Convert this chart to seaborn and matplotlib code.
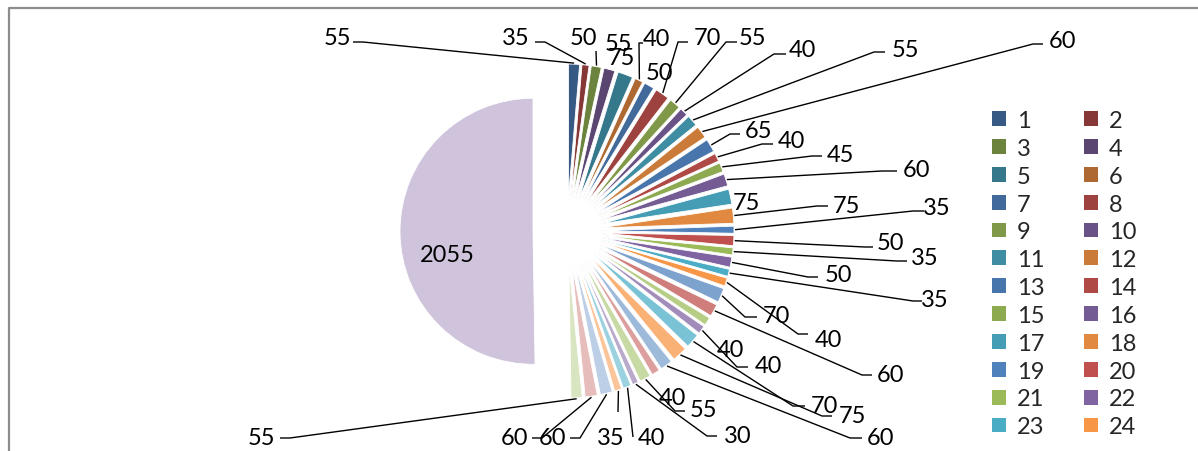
import math
import matplotlib
matplotlib.use("Agg")
import matplotlib.pyplot as plt
import seaborn as sns
from matplotlib.patches import Patch
from matplotlib.colors import to_rgb

# Slice values, clockwise from twelve o'clock
values = [55, 35, 50, 55, 75, 40, 50, 70, 55, 40, 55, 60, 65, 40, 45, 60, 75, 75,
          35, 50, 35, 50, 35, 40, 70, 60, 40, 40, 70, 75, 60, 40, 55, 30, 40, 35,
          60, 60, 55, 2055]
categories = ["1", "2", "3", "4", "5", "6", "7", "8", "9", "10",
              "11", "12", "13", "14", "15", "16", "17", "18", "19", "20",
              "21", "22", "23", "24", "25", "26", "27", "28", "29", "30",
              "31", "32", "33", "34", "35", "36", "37", "38", "39", "40"]
# the legend box only has room for this many entries
legend_entries = 24

# Office-style accent colours, cycled through darker shades and lighter tints
accents = ["#4F81BD", "#C0504D", "#9BBB59", "#8064A2", "#4BACC6", "#F79646"]
levels = [("shade", 0.70), ("shade", 0.82), ("shade", 0.91), ("shade", 1.0),
          ("tint", 0.26), ("tint", 0.45), ("tint", 0.62)]


def level_colour(base, kind, k):
    r, g, b = to_rgb(base)
    if kind == "shade":
        return (r * k, g * k, b * k)
    return (r + (1 - r) * k, g + (1 - g) * k, b + (1 - b) * k)


colors = [level_colour(accents[i % 6], *levels[i // 6]) for i in range(len(values))]

# Label placement in pixel space: (text x, baseline y, leader elbow (x, y, tick) or None)
label_layout = [
    (337, 45, (363, 43, -10)), (516, 45, (545, 43, -10)), (583, 45, (596, 52, 0)),
    (618, 51, None), (621, 65, None), (656, 46, (639, 44, 4)), (659, 80, None),
    (707, 45, (678, 43, 10)), (752, 45, (726, 43, 11)), (802, 57, (774, 55, 12)),
    (905, 57, (874, 53, 11)), (1063, 48, (1033, 45, 10)), (759, 138, (730, 135, 10)),
    (791, 148, (762, 145, 11)), (840, 162, (812, 157, 10)), (916, 177, (882, 172, 15)),
    (746, 210, None), (846, 213, (817, 207, 11)), (937, 215, (913, 212, 11)),
    (890, 250, (865, 248, 8)), (925, 265, (897, 262, 10)), (838, 282, (808, 278, 10)),
    (935, 307, (913, 302, 9)), (828, 347, (798, 335, 10)), (776, 323, (745, 318, 12)),
    (890, 382, (862, 376, 10)), (730, 357, None), (768, 373, (737, 368, 11)),
    (824, 413, (793, 407, 12)), (852, 423, (822, 417, 10)), (881, 445, (850, 439, 12)),
    (672, 405, None), (703, 417, (675, 412, 10)), (738, 443, (707, 437, 10)),
    (651, 445, (633, 438, 0)), (611, 445, (618, 413, 0)), (552, 445, (580, 439, -10)),
    (515, 445, (542, 439, -10)), (261, 445, (290, 439, -10)), (447, 262, None),
]

W, H = 1198, 452
FS = 17
sns.set_theme(style="white")
plt.rcParams["font.family"] = ["Lato", "DejaVu Sans"]

fig = plt.figure(figsize=(W / 100, H / 100), dpi=100)
ax = fig.add_axes([0, 0, 1, 1])

wedges, _ = ax.pie(values, colors=colors, startangle=-90, counterclock=True,
                   radius=133, center=(567, 232), explode=[34] * len(values),
                   wedgeprops=dict(linewidth=0.6, edgecolor="white"), frame=True)

ax.set_xlim(0, W)
ax.set_ylim(H, 0)
ax.set_aspect("auto")
ax.axis("off")

# value labels with leader lines
for w, v, (tx, ty, elbow) in zip(wedges, values, label_layout):
    ax.text(tx, ty, str(v), ha="center", va="baseline", fontsize=FS, color="black")
    if elbow is None:
        continue
    tm = math.radians((w.theta1 + w.theta2) / 2)
    cx, cy = w.center
    px, py = cx + (w.r + 1) * math.cos(tm), cy + (w.r + 1) * math.sin(tm)
    ex, ey, tick = elbow
    ax.plot([px, ex, ex + tick], [py, ey, ey], color="black", lw=1.0,
            solid_capstyle="butt")

# outer chart border
ax.plot([9, 9, W + 5], [H + 5, 9, 9], color="#8c8c8c", lw=1.6, clip_on=False)

# legend, filled row by row
shown = list(range(legend_entries))
order = shown[0::2] + shown[1::2]
handles = [Patch(facecolor=colors[i], edgecolor="none") for i in order]
labels = [categories[i] for i in order]
ax.legend(handles, labels, ncol=2, loc="upper left", bbox_to_anchor=(992, 111),
          bbox_transform=ax.transData, frameon=False, fontsize=FS, borderpad=0,
          borderaxespad=0, handlelength=0.59, handleheight=0.59, handletextpad=0.47,
          columnspacing=1.65, labelspacing=0.29)

fig.savefig("out.png", dpi=100)
